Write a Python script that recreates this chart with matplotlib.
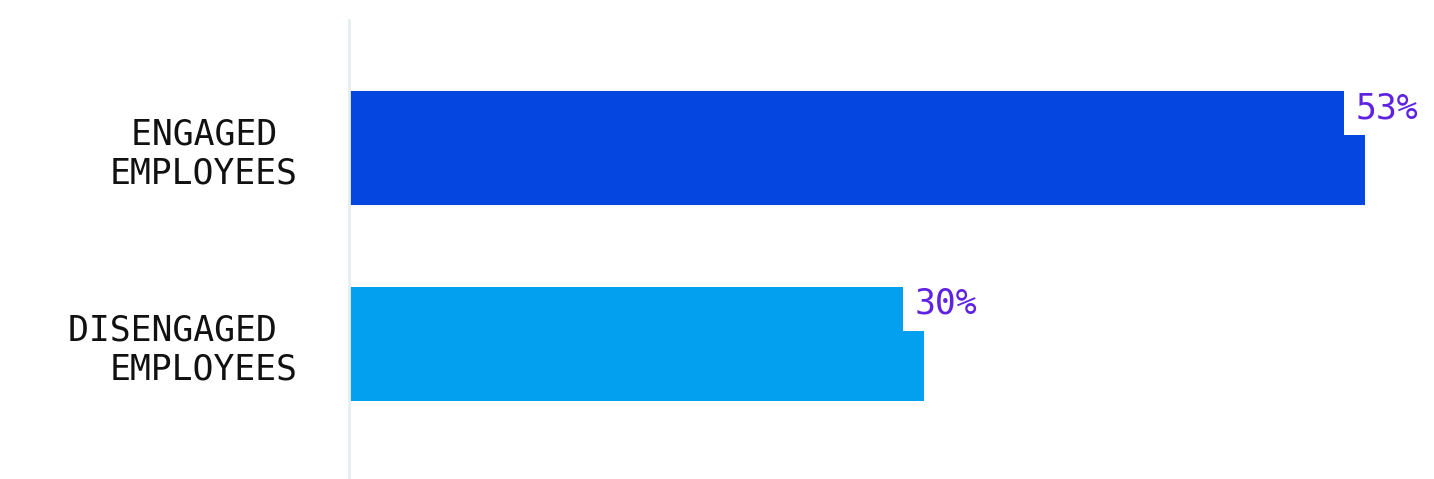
import matplotlib
matplotlib.use('Agg')
from matplotlib import pyplot as plt
from matplotlib.patches import Rectangle

categories = ['ENGAGED \nEMPLOYEES', 'DISENGAGED \nEMPLOYEES']
values = [53, 30]
value_labels = ['53%', '30%']
colors = ['#0545e0', '#02a0ee']
label_color = '#5f22e3'

plt.rcParams['font.family'] = ['DejaVu Sans Mono']

fig = plt.figure(figsize=(14.34, 4.79), dpi=100)
ax = fig.add_axes([349 / 1434, 0, 1 - 349 / 1434, 459 / 479])

pos = list(range(len(values)))
ax.barh(pos, values, height=0.583, color=colors, left=0, zorder=1)

for y, v, lab in zip(pos, values, value_labels):
    top = y - 0.583 / 2
    ax.add_patch(Rectangle((v - 1.1, top), 8, 0.225, facecolor='white',
                           edgecolor='none', zorder=2))
    ax.text(v - 0.5, top + 0.0, lab, color=label_color, fontsize=25,
            ha='left', va='top', zorder=3)

ax.set_xlim(0, 56.6)
ax.set_ylim(1.693, -0.655)
ax.set_yticks(pos)
ax.set_yticklabels(categories, fontsize=25, color='#111111',
                   ha='right', multialignment='right', linespacing=1.2)
ax.tick_params(axis='y', length=0, pad=37)
ax.set_xticks([])
for s in ['top', 'right', 'bottom']:
    ax.spines[s].set_visible(False)
ax.spines['left'].set_color('#e6eef0')
ax.spines['left'].set_linewidth(2)

fig.savefig('out.png', dpi=100, facecolor='white')
